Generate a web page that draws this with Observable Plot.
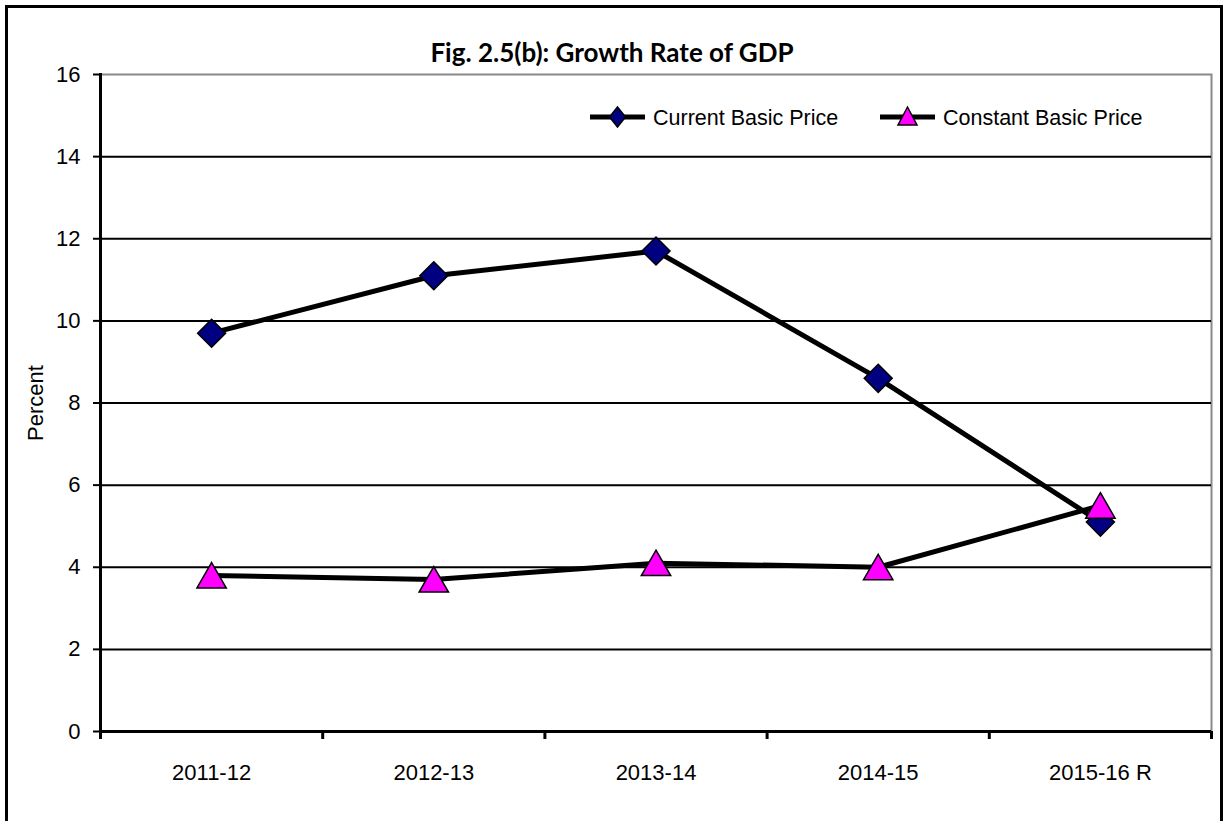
<!DOCTYPE html>
<html>
<head>
<meta charset="utf-8">
<script src="https://cdn.jsdelivr.net/npm/d3@7"></script>
<script src="https://cdn.jsdelivr.net/npm/@observablehq/plot@0.6"></script>
<style>
  html, body { margin: 0; padding: 0; background: #fff; }
  #wrap { position: relative; width: 1224px; height: 821px; overflow: hidden; font-family: "Liberation Sans", Arial, sans-serif; }
  #frame { position: absolute; left: 5px; top: 5px; width: 1218px; height: 840px; border: 3px solid #000; box-sizing: border-box; pointer-events: none; }
  #title { height: 60px; box-sizing: border-box; padding-top: 38px; text-align: center; font-family: Lato, "Open Sans", sans-serif; font-weight: bold; font-size: 26px; line-height: 28px; color: #000; }
  #legend { position: absolute; left: 0; top: 0; pointer-events: none; }
</style>
</head>
<body>
<div id="wrap">
  <div id="title">Fig. 2.5(b): Growth Rate of GDP</div>
  <div id="chart"></div>
  <svg id="legend" width="1224" height="160"></svg>
  <div id="frame"></div>
</div>
<script>
// ---- data ----
const years = ["2011-12", "2012-13", "2013-14", "2014-15", "2015-16 R"];
const currentBasic = [9.7, 11.1, 11.7, 8.6, 5.1];
const constantBasic = [3.8, 3.7, 4.1, 4.0, 5.5];
const yTicks = [0, 2, 4, 6, 8, 10, 12, 14, 16];
const seriesNames = ["Current Basic Price", "Constant Basic Price"];

const rows = years.map((y, i) => ({i, year: y, current: currentBasic[i], constant: constantBasic[i]}));
const FONT = "'Liberation Sans', Arial, sans-serif";

const chart = Plot.plot({
  width: 1224,
  height: 761,
  marginLeft: 100,
  marginRight: 13,
  marginTop: 14,
  marginBottom: 90,
  style: {fontFamily: FONT, background: "#fff", color: "#000"},
  x: {type: "linear", domain: [-0.5, years.length - 0.5]},
  y: {domain: [0, 16]},
  marks: [
    Plot.frame({stroke: "#888", strokeWidth: 2}),
    Plot.gridY(yTicks.filter(t => t < 16), {stroke: "#000", strokeOpacity: 1, strokeWidth: 2}),
    Plot.axisY({ticks: yTicks, tickSize: 7, tickPadding: 13, fontSize: 22, strokeWidth: 2,
      label: "Percent", labelAnchor: "center", labelArrow: "none", labelOffset: 73}),
    Plot.axisX({ticks: d3.range(years.length), tickSize: 0, tickPadding: 33, fontSize: 22,
      tickFormat: i => years[i], label: null}),
    Plot.axisX({ticks: d3.range(-0.5, years.length + 0.5, 1), tickSize: 8, strokeWidth: 3,
      tickFormat: () => "", label: null}),
    Plot.ruleY([0], {stroke: "#000", strokeWidth: 3}),
    Plot.frame({anchor: "left", stroke: "#000", strokeWidth: 3}),
    Plot.line(rows, {x: "i", y: "current", stroke: "#000", strokeWidth: 5}),
    Plot.line(rows, {x: "i", y: "constant", stroke: "#000", strokeWidth: 5}),
    Plot.dot(rows, {x: "i", y: "current", symbol: "diamond2", r: 12.6, fill: "#000080", stroke: "#000", strokeWidth: 1.5}),
    Plot.dot(rows, {x: "i", y: "constant", symbol: "triangle", r: 10.9, dy: 4, fill: "#ff00ff", stroke: "#000", strokeWidth: 1.5})
  ]
});
document.getElementById("chart").appendChild(chart);

// ---- legend ----
const lg = d3.select("#legend");
const items = [
  {name: seriesNames[0], x0: 590, sym: "diamond", fill: "#000080"},
  {name: seriesNames[1], x0: 880, sym: "triangle", fill: "#ff00ff"}
];
const ly = 117;
items.forEach(it => {
  const g = lg.append("g");
  g.append("line").attr("x1", it.x0).attr("x2", it.x0 + 55).attr("y1", ly).attr("y2", ly)
    .attr("stroke", "#000").attr("stroke-width", 5);
  const cx = it.x0 + 27.5;
  if (it.sym === "diamond") {
    g.append("path").attr("d", `M${cx},${ly-10}L${cx+8},${ly}L${cx},${ly+10}L${cx-8},${ly}Z`)
      .attr("fill", it.fill).attr("stroke", "#000").attr("stroke-width", 1.5);
  } else {
    g.append("path").attr("d", `M${cx},${ly-10}L${cx+9.5},${ly+8}L${cx-9.5},${ly+8}Z`)
      .attr("fill", it.fill).attr("stroke", "#000").attr("stroke-width", 1.5);
  }
  g.append("text").attr("x", it.x0 + 63).attr("y", ly).attr("dy", "0.35em")
    .attr("font-size", 21.5).attr("font-family", FONT)
    .attr("fill", "#000").text(it.name);
});
</script>
</body>
</html>
